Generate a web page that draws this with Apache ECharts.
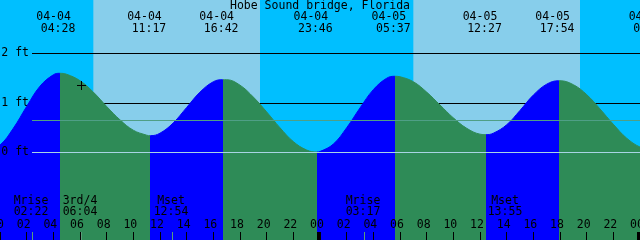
<!DOCTYPE html>
<html><head><meta charset="utf-8">
<script src="https://cdn.jsdelivr.net/npm/echarts@6/dist/echarts.min.js"></script>
<style>html,body{margin:0;padding:0;background:#00BFFF}#c{width:640px;height:240px}</style>
</head><body><div id="c"></div>
<script>
// ---------------- data ----------------
const titleText = 'Hobe Sound bridge, Florida';
// hourly tide heights (ft), hours 0..48 from 04-04 00:00
const tideHours = [0,1,2,3,4,5,6,7,8,9,10,11,12,13,14,15,16,17,18,19,20,21,22,23,24,
  25,26,27,28,29,30,31,32,33,34,35,36,37,38,39,40,41,42,43,44,45,46,47,48];
const tideFeet = [0.15,0.49,0.93,1.34,1.57,1.58,1.45,1.22,0.93,0.66,0.45,0.35,0.39,0.60,0.91,1.22,1.43,1.47,1.36,1.12,0.82,0.50,0.22,0.05,0.02,
  0.17,0.50,0.90,1.27,1.50,1.53,1.43,1.22,0.96,0.70,0.49,0.37,0.39,0.56,0.85,1.16,1.38,1.45,1.37,1.17,0.88,0.57,0.29,0.11];
// tide extremes (high / low)
const extremeDates = ['04-03','04-04','04-04','04-04','04-04','04-05','04-05','04-05','04-06'];
const extremeTimes = ['23:00','04:28','11:17','16:42','23:46','05:37','12:27','17:54','00:54'];
const extremeFeet  = [0.02, 1.60, 0.34, 1.47, 0.01, 1.54, 0.36, 1.45, 0.05];
// moon events
const moonNames = ['Mrise','3rd/4','Mset','Mrise','Mset'];
const moonDates = ['04-04','04-04','04-04','04-05','04-05'];
const moonTimes = ['02:22','06:04','12:54','03:17','13:55'];
// sun
const sunDates = ['04-04','04-05'];
const sunriseTimes = ['07:00','07:00'];
const sunsetTimes = ['19:30','19:30'];
// reference levels
const gridFeet = [2, 1];
const datumFeet = [0];
const mslFeet = [0.64];
// x tick labels (every 2 h)
const xTickLabels = ['00','02','04','06','08','10','12','14','16','18','20','22',
  '00','02','04','06','08','10','12','14','16','18','20','22','00'];
const dayBoundaryHours = [24, 48];
// "+" mark
const markHour = 6.07, markFeet = 1.37;

// ---------------- styles ----------------
const NIGHT = '#00BFFF', DAY = '#87CEEB', FLOOD = '#0000FF', EBB = '#2E8B57';
const MSL = '#4f9f86', DATUM = '#a8d4e4', MOONTICK = '#5a9e7a';
const FONT_FAMILY = 'DejaVu Sans Mono';
const FONT_SIZE = 11.5;
const FONT = FONT_SIZE + 'px "' + FONT_FAMILY + '"';
const PX_PER_FT = 49.5, ZERO_Y = 152.5, H = 240;
const Y_MAX = ZERO_Y / PX_PER_FT, Y_MIN = Y_MAX - H / PX_PER_FT;
const LINE_START_H = 2.4;

function toHours(d, t) {
  const day = +d.slice(3);
  const p = t.split(':').map(Number);
  return (day - 4) * 24 + p[0] + p[1] / 60;
}
const extremeHours = extremeDates.map((d, i) => toHours(d, extremeTimes[i]));
const curve = tideHours.map((h, i) => [h, tideFeet[i]])
  .concat(extremeHours.map((h, i) => [h, extremeFeet[i]]))
  .sort((a, b) => a[0] - b[0]);

const pieces = [];
for (let i = 0; i < extremeHours.length - 1; i++) {
  pieces.push({ gte: extremeHours[i], lt: extremeHours[i + 1],
    color: extremeFeet[i] < extremeFeet[i + 1] ? FLOOD : EBB });
}
const dayBands = sunDates.map((d, i) => [{ xAxis: toHours(d, sunriseTimes[i]) }, { xAxis: toHours(d, sunsetTimes[i]) }]);

const chart = echarts.init(document.getElementById('c'), null, { renderer: 'canvas' });
const txt = (x, y, s, align) => ({ type: 'text', x: x, y: y, silent: true,
  style: { text: s, fill: '#000', font: FONT, align: align || 'center', verticalAlign: 'middle' } });

// horizontal reference level lines, drawn through the axes
function levelSeries(z, levels, color, withLabel) {
  return { type: 'custom', z: z, silent: true, data: levels.map(f => [LINE_START_H, f]),
    renderItem: (params, api) => {
      const p0 = api.coord([api.value(0), api.value(1)]);
      const p1 = api.coord([48, api.value(1)]);
      const y = Math.round(p0[1] - 0.5) + 0.5;
      const x0 = Math.round(p0[0]);
      const children = [{ type: 'line', shape: { x1: x0, y1: y, x2: p1[0], y2: y },
        style: { stroke: color, lineWidth: 1 } }];
      if (withLabel) children.push(txt(x0 - 3, y - 0.5, api.value(1) + ' ft', 'right'));
      return { type: 'group', children: children };
    } };
}

const option = {
  animation: false,
  backgroundColor: NIGHT,
  title: { text: titleText, left: 'center', top: 0, padding: 0,
    textStyle: { fontFamily: FONT_FAMILY, fontSize: FONT_SIZE, fontWeight: 'normal', color: '#000' } },
  grid: { left: 0, right: 0, top: 0, bottom: 0, containLabel: false, outerBoundsMode: 'none' },
  xAxis: { type: 'value', min: 0, max: 48, interval: 2, z: 10,
    axisLine: { show: false, onZero: false },
    axisTick: { show: true, inside: true, length: 8, lineStyle: { color: '#000', width: 1 } },
    axisLabel: { inside: true, margin: 9, color: '#000', fontFamily: FONT_FAMILY, fontSize: FONT_SIZE,
      padding: [0, 6, 0, 0], showMinLabel: true, showMaxLabel: true,
      formatter: v => xTickLabels[Math.round(v / 2)] },
    splitLine: { show: false } },
  yAxis: { type: 'value', min: Y_MIN, max: Y_MAX, show: false, splitLine: { show: false } },
  visualMap: [{ type: 'piecewise', show: false, dimension: 0, seriesIndex: 2, pieces: pieces,
    outOfRange: { color: EBB } }],
  series: [
    { type: 'line', z: 0, data: [[0, Y_MIN]], symbol: 'none', lineStyle: { width: 0 }, silent: true,
      markArea: { z: 0, silent: true, itemStyle: { color: DAY, opacity: 1 }, label: { show: false },
        data: dayBands } },
    levelSeries(1, gridFeet, '#000', true),
    { type: 'line', z: 2, data: curve, smooth: 0.4, symbol: 'none', showSymbol: false, silent: true,
      lineStyle: { width: 1 }, areaStyle: { opacity: 1, origin: 'start' } },
    levelSeries(5, mslFeet, MSL, false),
    levelSeries(5, datumFeet, DATUM, true),
    { type: 'custom', z: 6, silent: true,
      data: extremeHours.map((h, i) => [h, extremeFeet[i]]),
      renderItem: (params, api) => {
        const i = params.dataIndex;
        if (api.value(0) < 0) return null;
        const x = api.coord([api.value(0), 0])[0];
        return { type: 'group', children: [txt(x - 6, 17.5, extremeDates[i]), txt(x - 1.5, 29.5, extremeTimes[i])] };
      } },
    { type: 'custom', z: 6, silent: true,
      data: moonDates.map((d, i) => [toHours(d, moonTimes[i]), 0]),
      renderItem: (params, api) => {
        const i = params.dataIndex;
        const x = Math.round(api.coord([api.value(0), 0])[0]) + 0.5;
        return { type: 'group', children: [
          txt(x - 1.5, 201, moonNames[i]), txt(x - 1.5, 212.5, moonTimes[i]),
          { type: 'line', shape: { x1: x, y1: 232, x2: x, y2: 240 }, style: { stroke: MOONTICK, lineWidth: 1 } }
        ] };
      } },
    { type: 'custom', z: 6, silent: true,
      data: dayBoundaryHours.map(h => [h, 0]),
      renderItem: (params, api) => {
        const x = Math.round(api.coord([api.value(0), 0])[0]);
        return { type: 'rect', shape: { x: x - 3, y: 232, width: 3, height: 8 }, style: { fill: '#000' } };
      } },
    { type: 'custom', z: 6, silent: true,
      data: [[markHour, markFeet]],
      renderItem: (params, api) => {
        const p = api.coord([api.value(0), api.value(1)]);
        const x = Math.round(p[0]) + 0.5, y = Math.round(p[1]) + 0.5;
        return { type: 'group', children: [
          { type: 'line', shape: { x1: x - 4.5, y1: y, x2: x + 4.5, y2: y }, style: { stroke: '#000', lineWidth: 1 } },
          { type: 'line', shape: { x1: x, y1: y - 4.5, x2: x, y2: y + 4.5 }, style: { stroke: '#000', lineWidth: 1 } }
        ] };
      } }
  ]
};
chart.setOption(option);
</script></body></html>
